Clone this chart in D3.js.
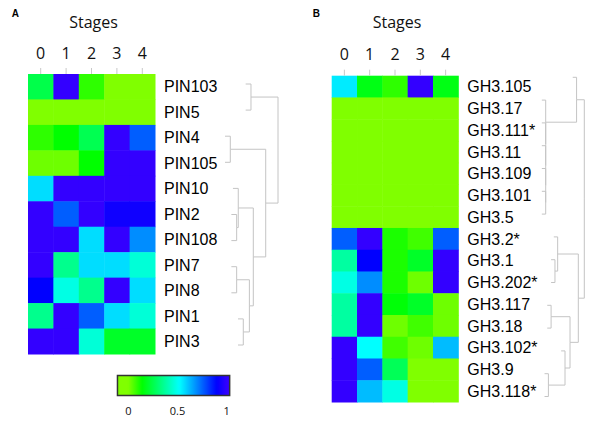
<!DOCTYPE html>
<html>
<head>
<meta charset="utf-8">
<script src="https://cdn.jsdelivr.net/npm/d3@7"></script>
<style>
  html, body { margin: 0; padding: 0; background: #fff; }
  svg { display: block; }
</style>
</head>
<body>
<svg id="chart" width="600" height="424"></svg>
<script>
// ---------------- DATA ----------------
const stages = ["0", "1", "2", "3", "4"];

const genesA = ["PIN103", "PIN5", "PIN4", "PIN105", "PIN10", "PIN2", "PIN108", "PIN7", "PIN8", "PIN1", "PIN3"];
const valuesA = [
  [0.25, 1.00, 0.09, 0.00, 0.00],
  [0.00, 0.00, 0.00, 0.00, 0.00],
  [0.09, 0.14, 0.26, 1.00, 0.76],
  [0.02, 0.02, 0.14, 1.00, 1.00],
  [0.57, 1.00, 1.00, 1.00, 1.00],
  [1.00, 0.76, 1.00, 0.93, 0.93],
  [1.00, 1.00, 0.57, 1.00, 0.69],
  [1.00, 0.35, 0.57, 0.57, 0.46],
  [0.90, 0.48, 0.35, 1.00, 0.57],
  [0.35, 1.00, 0.76, 0.57, 0.46],
  [1.00, 1.00, 0.46, 0.20, 0.20]
];
// hclust-style merges: negative = leaf (1-based), positive = earlier merge; third = height
const mergesA = [
  [-3, -4, 0.10],
  [-6, -7, 0.22],
  [-8, -9, 0.22],
  [-5, 2, 0.25],
  [-10, -11, 0.345],
  [3, 5, 0.46],
  [-1, -2, 0.49],
  [4, 6, 0.534],
  [1, 8, 0.768],
  [7, 9, 1.0]
];

const genesB = ["GH3.105", "GH3.17", "GH3.111*", "GH3.11", "GH3.109", "GH3.101", "GH3.5", "GH3.2*", "GH3.1", "GH3.202*", "GH3.117", "GH3.18", "GH3.102*", "GH3.9", "GH3.118*"];
const valuesB = [
  [0.55, 0.17, 0.09, 1.00, 0.17],
  [0.00, 0.00, 0.00, 0.00, 0.00],
  [0.00, 0.00, 0.00, 0.00, 0.00],
  [0.00, 0.00, 0.00, 0.00, 0.00],
  [0.00, 0.00, 0.00, 0.00, 0.00],
  [0.00, 0.00, 0.00, 0.00, 0.00],
  [0.00, 0.00, 0.00, 0.00, 0.00],
  [0.76, 1.00, 0.11, 0.07, 0.76],
  [0.38, 0.90, 0.11, 0.20, 1.00],
  [0.48, 0.69, 0.11, 0.02, 1.00],
  [0.38, 1.00, 0.15, 0.20, 0.02],
  [0.38, 1.00, 0.02, 0.07, 0.02],
  [1.00, 0.52, 0.07, 0.02, 0.62],
  [1.00, 0.76, 0.27, 0.00, 0.00],
  [1.00, 0.62, 0.48, 0.00, 0.00]
];
const mergesB = [
  [-6, -7, 0],
  [-5, 1, 0],
  [-4, 2, 0],
  [-3, 3, 0],
  [-2, 4, 0],
  [-14, -15, 0.07],
  [-11, -12, 0.14],
  [-9, -10, 0.24],
  [-8, 8, 0.31],
  [-13, 6, 0.50],
  [7, 10, 0.63],
  [-1, 5, 0.80],
  [9, 11, 0.845],
  [12, 13, 1.0]
];

const legendTicks = [0, 0.5, 1];
const legendTickLabels = ["0", "0.5", "1"];
const colorStops = [0, 0.14, 0.52, 0.9, 1];
const colorRange = ["#80ff00", "#00ff00", "#00ffff", "#0000ff", "#3300ff"];

// ---------------- DRAW ----------------
const svg = d3.select("#chart");
svg.append("rect").attr("width", 600).attr("height", 424).attr("fill", "#fff");

const color = d3.scaleLinear().domain(colorStops).range(colorRange)
  .interpolate(d3.interpolateRgb).clamp(true);

const labelFont = "'Liberation Sans', Arial, sans-serif";
const headFont = "'Open Sans', 'Noto Sans', sans-serif";
const treeColor = "#c4c4c4";

function panel(cfg) {
  const g = svg.append("g");
  const x = d3.scaleBand().domain(stages).range(cfg.hx);
  const y = d3.scaleBand().domain(cfg.genes).range(cfg.hy);

  // cells
  cfg.values.forEach((row, i) => {
    g.selectAll(null).data(row).enter().append("rect")
      .attr("x", (d, j) => x(stages[j]))
      .attr("y", y(cfg.genes[i]))
      .attr("width", x.bandwidth() + 0.5)
      .attr("height", y.bandwidth() + 0.5)
      .attr("fill", d => color(d));
  });

  // top axis
  const ax = g.append("g").attr("transform", `translate(0,${cfg.hy[0]})`)
    .call(d3.axisTop(x).tickSize(6).tickPadding(9.5));
  ax.select(".domain").remove();
  ax.selectAll(".tick line").attr("stroke", "#c8c8c8");
  ax.selectAll(".tick text").attr("fill", "#111").style("font-family", headFont)
    .style("font-size", "16px");

  // Stages title
  g.append("text").attr("x", (cfg.hx[0] + cfg.hx[1]) / 2 + 2).attr("y", 28)
    .attr("text-anchor", "middle").style("font-family", headFont).style("font-size", "16px")
    .attr("fill", "#111").text("Stages");

  // panel letter
  g.append("text").attr("x", cfg.letterX).attr("y", 16.7)
    .style("font-family", labelFont).style("font-size", "10px").style("font-weight", "bold")
    .attr("fill", "#000").text(cfg.letter);

  // row labels
  g.selectAll(null).data(cfg.genes).enter().append("text")
    .attr("x", cfg.hx[1] + 9)
    .attr("y", d => y(d) + y.bandwidth() / 2)
    .attr("dy", "0.36em")
    .style("font-family", labelFont).style("font-size", "16px")
    .attr("fill", "#000").text(d => d);

  // dendrogram
  const ty = d3.scalePoint().domain(cfg.genes).range(cfg.treeY);
  const tx = d3.scaleLinear().domain([0, 1]).range(cfg.treeX);
  const hang = 0.1;
  const nodes = [];
  const leafPos = i => ty(cfg.genes[i]);
  function pos(ref) {
    return ref < 0 ? { y: leafPos(-ref - 1), h: null } : nodes[ref - 1];
  }
  const segs = [];
  cfg.merges.forEach(([a, b, h]) => {
    const A = pos(a), B = pos(b);
    const ny = (A.y + B.y) / 2;
    [A, B].forEach(c => {
      const ch = c.h === null ? h - hang : c.h;
      segs.push(`M${tx(h)},${ny}V${c.y}H${tx(ch)}`);
    });
    nodes.push({ y: ny, h: h });
  });
  g.append("path").attr("d", segs.join(""))
    .attr("fill", "none").attr("stroke", treeColor).attr("stroke-width", 1);
}

panel({
  genes: genesA, values: valuesA, merges: mergesA,
  hx: [28, 155], hy: [74, 354],
  treeY: [84, 345], treeX: [225, 278],
  letter: "A", letterX: 11.7
});

panel({
  genes: genesB, values: valuesB, merges: mergesB,
  hx: [331.7, 458.3], hy: [75.7, 402],
  treeY: [77.3, 396.5], treeX: [545.7, 584.3],
  letter: "B", letterX: 312.7
});

// ---------------- LEGEND ----------------
const lx = d3.scaleLinear().domain([0, 1]).range([128.3, 226.7]);
const barDomain = [-0.11, 1.03];
const defs = svg.append("defs");
const grad = defs.append("linearGradient").attr("id", "lg")
  .attr("x1", "0%").attr("x2", "100%").attr("y1", "0%").attr("y2", "0%");
d3.range(0, 1.0001, 0.02).forEach(t => {
  const v = barDomain[0] + t * (barDomain[1] - barDomain[0]);
  grad.append("stop").attr("offset", (t * 100) + "%").attr("stop-color", color(v));
});
svg.append("rect")
  .attr("x", lx(barDomain[0])).attr("y", 375.5)
  .attr("width", lx(barDomain[1]) - lx(barDomain[0])).attr("height", 20)
  .attr("fill", "url(#lg)").attr("stroke", "#333").attr("stroke-width", 1.5);
svg.selectAll(null).data(legendTicks).enter().append("text")
  .attr("x", d => lx(d)).attr("y", 415)
  .attr("text-anchor", "middle")
  .style("font-family", headFont).style("font-size", "11px").attr("fill", "#111")
  .text((d, i) => legendTickLabels[i]);
</script>
</body>
</html>
